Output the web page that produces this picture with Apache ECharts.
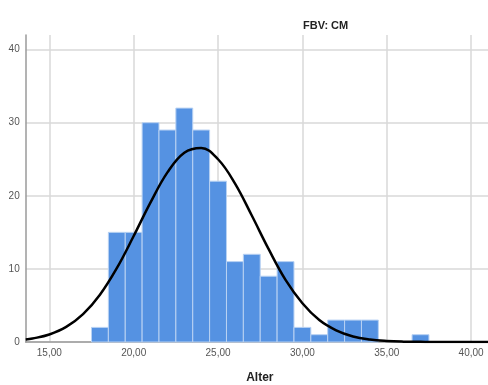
<!DOCTYPE html>
<html><head><meta charset="utf-8">
<script src="https://cdn.jsdelivr.net/npm/echarts@6/dist/echarts.min.js"></script>
<style>html,body{margin:0;padding:0;background:#fff}#c{width:488px;height:385px}</style>
</head><body><div id="c"></div>
<script>
// Histogram bins (center of 1-year bins) and counts
const binCenters = [18,19,20,21,22,23,24,25,26,27,28,29,30,31,32,33,34,37];
const binCounts  = [2,15,15,30,29,32,29,22,11,12,9,11,2,1,3,3,3,1];
const binWidth = 1;
// Normal curve
const curveX = [13.6,14,15,16,17,18,19,20,21,22,23,24,25,26,27,28,29,30,31,32,33,34,35,36,37,38,39,40,41];
const curveY = [0.34,0.47,1.03,2.06,3.81,6.47,10.1,14.5,19.1,23.2,25.9,26.55,25.0,21.7,17.3,12.7,8.5,5.3,3.0,1.6,0.76,0.34,0.14,0.05,0.02,0,0,0,0];
const xTicks = [15,20,25,30,35,40];
const yTicks = [0,10,20,30,40];
const titleText = 'FBV: CM';
const xName = 'Alter';

const chart = echarts.init(document.getElementById('c'));
const font = 'Liberation Sans, Arial, sans-serif';
chart.setOption({
  animation:false,
  title:{text:titleText,left:298,top:15,textStyle:{fontFamily:font,fontSize:11,fontWeight:'bold',color:'#222'}},
  grid:{left:25.7,right:0,top:35,bottom:43,containLabel:false,outerBoundsMode:'none'},
  xAxis:{type:'value',min:13.6,max:41,
    name:xName,nameLocation:'middle',nameGap:30,
    nameTextStyle:{fontFamily:font,fontSize:12,fontWeight:'bold',color:'#222',padding:[0,0,0,6]},
    axisLine:{show:true,lineStyle:{color:'#9a9a9a',width:1.5}},
    axisTick:{show:false,customValues:xTicks},
    axisLabel:{customValues:xTicks,fontFamily:font,fontSize:10,color:'#555',margin:6,
      formatter:v=>v.toFixed(2).replace('.',',')},
    splitLine:{show:true,lineStyle:{color:'#d9d9d9',width:1.5}}},
  yAxis:{type:'value',min:0,max:42,
    axisLine:{show:true,lineStyle:{color:'#9a9a9a',width:1.5}},
    axisTick:{show:false,customValues:yTicks},
    axisLabel:{customValues:yTicks,fontFamily:font,fontSize:10,color:'#555',margin:6},
    splitLine:{show:true,lineStyle:{color:'#d9d9d9',width:1.5}}},
  series:[
    {type:'custom',
     data:binCenters.map((c,i)=>[c,binCounts[i]]),
     renderItem:function(params,api){
       const c=api.value(0), v=api.value(1);
       const p0=api.coord([c-binWidth/2,v]);
       const p1=api.coord([c+binWidth/2,0]);
       return {type:'rect',shape:{x:p0[0],y:p0[1],width:p1[0]-p0[0],height:p1[1]-p0[1]},
         style:{fill:'#5592e2',stroke:'#b9d2f3',lineWidth:1}};
     },z:2},
    {type:'line',data:curveX.map((x,i)=>[x,curveY[i]]),smooth:0.4,showSymbol:false,
     lineStyle:{color:'#000',width:2.5},z:3}
  ]
});
</script></body></html>
